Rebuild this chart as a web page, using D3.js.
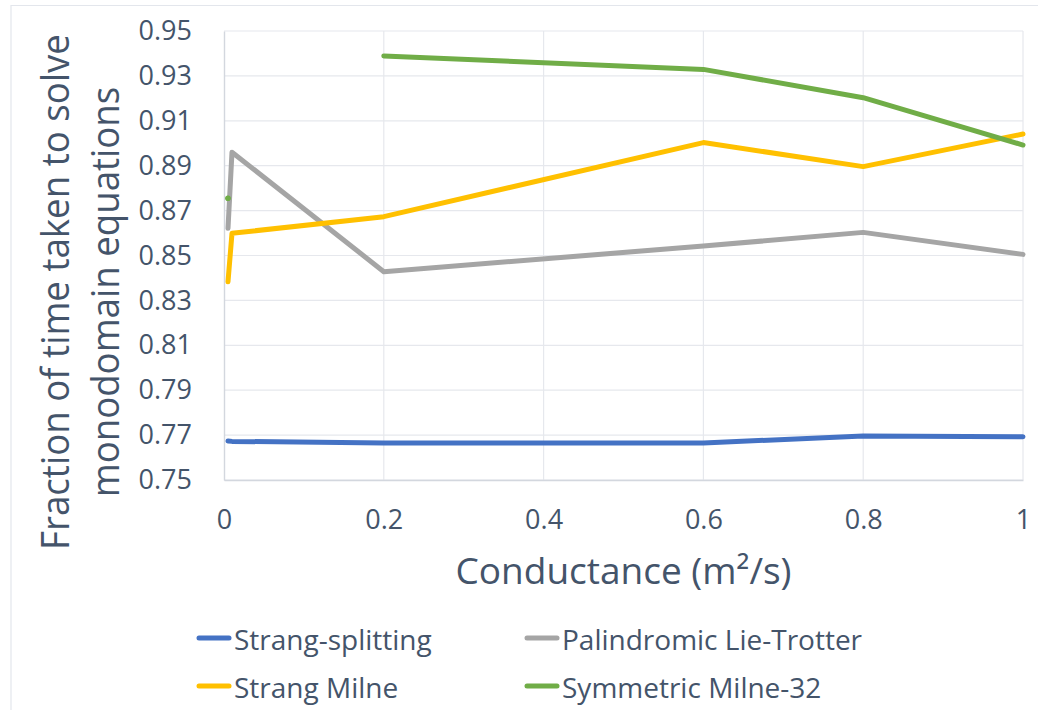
<!DOCTYPE html>
<html>
<head>
<meta charset="utf-8">
<script src="https://cdn.jsdelivr.net/npm/d3@7"></script>
<style>
  html, body { margin: 0; padding: 0; background: #fff; }
  svg text { font-family: "Open Sans", "Noto Sans", sans-serif; fill: #44546A; }
</style>
</head>
<body>
<svg id="chart" width="1038" height="710"></svg>
<script>
// Conductance values (m^2/s) at which each method was timed
const conductance = [0.005, 0.01, 0.2, 0.6, 0.8, 1];

// Fraction of total run time spent solving the monodomain equations
const strangSplitting = [0.7674, 0.7672, 0.7665, 0.7665, 0.7696, 0.7693];
const palindromicLieTrotter = [0.8621, 0.8960, 0.8428, 0.8542, 0.8603, 0.8505];
const strangMilne = [0.8383, 0.8599, 0.8673, 0.9003, 0.8896, 0.9041];
const symmetricMilne32 = [0.8755, null, 0.9389, 0.9329, 0.9203, 0.8992];

const seriesNames = ["Strang-splitting", "Palindromic Lie-Trotter", "Strang Milne", "Symmetric Milne-32"];
const seriesColors = ["#4472C4", "#A5A5A5", "#FFC000", "#70AD47"];
const seriesValues = [strangSplitting, palindromicLieTrotter, strangMilne, symmetricMilne32];

const xTicks = [0, 0.2, 0.4, 0.6, 0.8, 1];
const yTicks = [0.75, 0.77, 0.79, 0.81, 0.83, 0.85, 0.87, 0.89, 0.91, 0.93, 0.95];

const svg = d3.select("#chart");
const plotLeft = 224, plotRight = 1023, plotTop = 31, plotBottom = 480;

const x = d3.scaleLinear().domain([0, 1]).range([plotLeft, plotRight]);
const y = d3.scaleLinear().domain([0.75, 0.95]).range([plotBottom, plotTop]);

// outer chart frame (top and left edges)
svg.append("line").attr("x1", 11).attr("x2", 1038).attr("y1", 5.5).attr("y2", 5.5)
  .attr("stroke", "#E3E6EC").attr("stroke-width", 1.2);
svg.append("line").attr("x1", 11).attr("x2", 11).attr("y1", 5).attr("y2", 710)
  .attr("stroke", "#E3E6EC").attr("stroke-width", 1.2);

// gridlines
const grid = svg.append("g");
grid.selectAll("line.h").data(yTicks).join("line")
  .attr("x1", plotLeft).attr("x2", plotRight)
  .attr("y1", d => y(d)).attr("y2", d => y(d))
  .attr("stroke", "#E6E8ED").attr("stroke-width", 1.2);
grid.selectAll("line.v").data(xTicks.slice(1)).join("line")
  .attr("x1", d => x(d)).attr("x2", d => x(d))
  .attr("y1", plotTop).attr("y2", plotBottom)
  .attr("stroke", "#E6E8ED").attr("stroke-width", 1.2);

// axes
const yAxis = d3.axisLeft(y).tickValues(yTicks).tickFormat(d3.format(".2f")).tickSize(0).tickPadding(32);
const xAxis = d3.axisBottom(x).tickValues(xTicks)
  .tickFormat(d => d === 0 ? "0" : d === 1 ? "1" : d3.format(".1f")(d)).tickSize(0).tickPadding(30);

const gy = svg.append("g").attr("transform", `translate(${plotLeft},0)`).call(yAxis);
gy.select(".domain").attr("stroke", "#D3D7DE").attr("stroke-width", 1.4);
gy.selectAll("text").attr("font-size", 27).attr("fill", "#44546A").style("font-family", "'Open Sans'");

const gx = svg.append("g").attr("transform", `translate(0,${plotBottom})`).call(xAxis);
gx.select(".domain").attr("stroke", "#D3D7DE").attr("stroke-width", 1.4);
gx.selectAll("text").attr("font-size", 27).attr("fill", "#44546A").style("font-family", "'Open Sans'");

// series lines
const line = d3.line()
  .defined(d => d[1] !== null)
  .x(d => x(d[0]))
  .y(d => y(d[1]));

seriesValues.forEach((vals, i) => {
  const pts = conductance.map((c, j) => [c, vals[j]]);
  svg.append("path")
    .datum(pts)
    .attr("d", line)
    .attr("fill", "none")
    .attr("stroke", seriesColors[i])
    .attr("stroke-width", 5)
    .attr("stroke-linejoin", "round")
    .attr("stroke-linecap", "round");
  // isolated points (no neighbour on either side) show as a dot
  pts.forEach((p, j) => {
    if (p[1] === null) return;
    const prev = j > 0 ? pts[j - 1][1] : null;
    const next = j < pts.length - 1 ? pts[j + 1][1] : null;
    if (prev === null && next === null) {
      svg.append("circle").attr("cx", x(p[0])).attr("cy", y(p[1])).attr("r", 2.8)
        .attr("fill", seriesColors[i]);
    }
  });
});

// axis titles
svg.append("text")
  .attr("x", (plotLeft + plotRight) / 2).attr("y", 584)
  .attr("text-anchor", "middle").attr("font-size", 37)
  .text("Conductance (m²/s)");

const yTitle = svg.append("text")
  .attr("transform", "translate(0,292) rotate(-90) scale(0.94,1)")
  .attr("text-anchor", "middle").attr("font-size", 39);
yTitle.append("tspan").attr("x", 0).attr("y", 69).text("Fraction of time taken to solve");
yTitle.append("tspan").attr("x", 0).attr("y", 119).text("monodomain equations");

// legend
const legendPos = [[197, 638], [525, 638], [197, 686], [525, 686]];
seriesNames.forEach((name, i) => {
  const [lx, ly] = legendPos[i];
  const g = svg.append("g").attr("transform", `translate(${lx},${ly})`);
  g.append("line").attr("x1", 2).attr("x2", 32).attr("y1", 0).attr("y2", 0)
    .attr("stroke", seriesColors[i]).attr("stroke-width", 5).attr("stroke-linecap", "round");
  g.append("text").attr("x", 37).attr("y", 12).attr("font-size", 28).text(name);
});
</script>
</body>
</html>
